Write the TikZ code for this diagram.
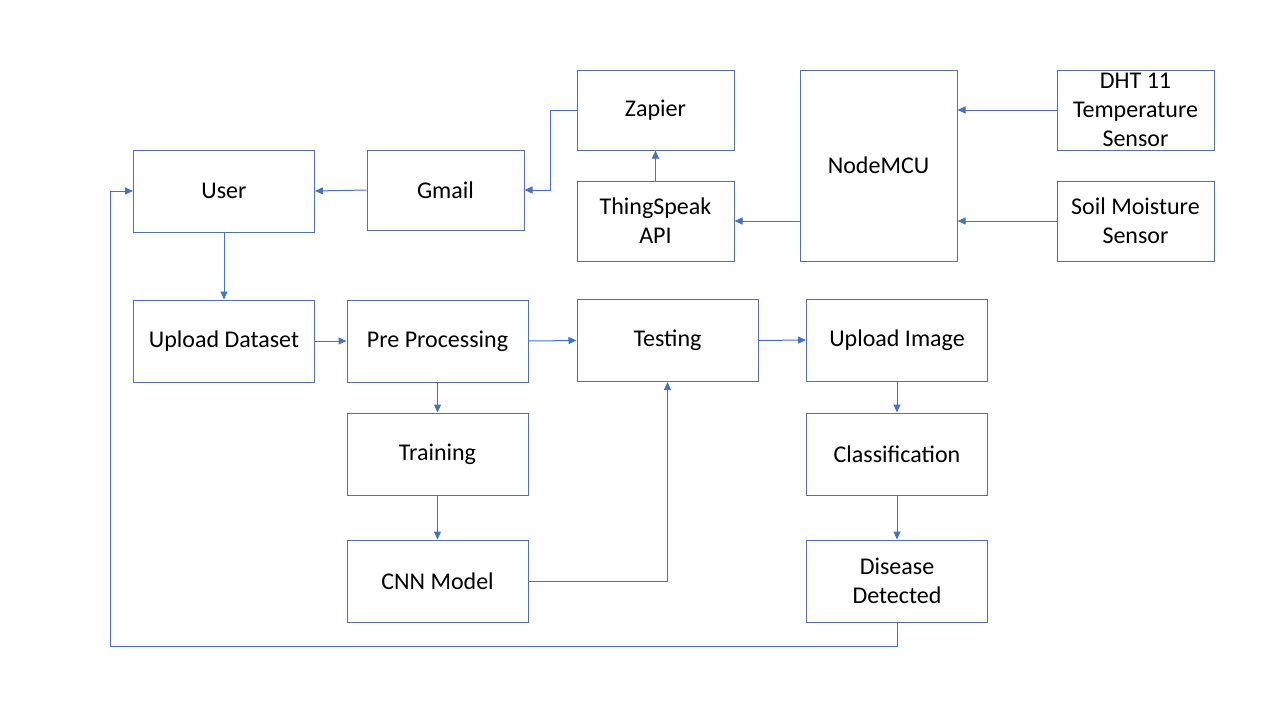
\documentclass[tikz,border=0pt]{standalone}
\usepackage{fontspec}
\setmainfont{Carlito}
\usetikzlibrary{arrows.meta}
\definecolor{boxline}{RGB}{82,114,170}
\definecolor{arrowline}{RGB}{68,114,196}
\begin{document}
\begin{tikzpicture}[x=1pt,y=-1pt,
    blk/.style={draw=boxline,line width=1pt,minimum width=157pt,minimum height=80pt,align=center,font=\fontsize{24}{29}\selectfont,inner sep=0pt},
    wblk/.style={blk,minimum width=181pt,minimum height=82pt},
    flow/.style={-{Triangle[length=8pt,width=7pt]},draw=arrowline,line width=1pt}]
        \useasboundingbox (0,0) rectangle (1280,720);
        %top row
        \node[blk] (zapier) at (655.5,110) {Zapier};
        \node[blk] (thingspeak) at (655.5,221) {ThingSpeak\\API};
        \node[blk,minimum height=191pt] (nodemcu) at (878.5,165.5) {NodeMCU};
        \node[blk] (dht) at (1135.5,110) {DHT 11\\Temperature\\Sensor};
        \node[blk] (soil) at (1135.5,221) {Soil Moisture\\Sensor};
        \node[wblk] (user) at (224,191) {User};
        \node[blk] (gmail) at (445.5,190) {Gmail};

        %middle row
        \node[wblk] (upload) at (224,341) {Upload Dataset};
        \node[wblk] (prepro) at (437.5,341) {Pre Processing};
        \node[wblk] (testing) at (667.5,340.5) {Testing};
        \node[wblk] (uploadimg) at (897,340) {Upload Image};

        %lower rows
        \node[wblk] (training) at (437.5,454) {Training};
        \node[wblk] (classif) at (897,454) {Classification};
        \node[wblk] (cnn) at (437.5,581) {CNN Model};
        \node[wblk] (disease) at (897,581) {Disease\\Detected};

        % sensors
        \draw[flow] (dht.west) -- (dht.west -| nodemcu.east);
        \draw[flow] (soil.west) -- (soil.west -| nodemcu.east);
        \draw[flow] (soil.west -| nodemcu.west) -- (thingspeak.east);
        \draw[flow] (thingspeak.north) -- (zapier.south);
        \draw[flow] (zapier.west) -- (550,110) -- (550,190) -- (gmail.east);
        \draw[flow] (gmail.west) -- (user.east);

        % image pipeline
        \draw[flow] (user.south) -- (upload.north);
        \draw[flow] (upload.east) -- (prepro.west);
        \draw[flow] (prepro.east) -- (testing.west);
        \draw[flow] (prepro.south) -- (training.north);
        \draw[flow] (training.south) -- (cnn.north);
        \draw[flow] (cnn.east) -| (testing.south);
        \draw[flow] (testing.east) -- (uploadimg.west);
        \draw[flow] (uploadimg.south) -- (classif.north);
        \draw[flow] (classif.south) -- (disease.north);

        %loop back
        \coordinate (loopa) at (897,646);
        \coordinate (loopb) at (110,646);
        \draw[flow] (disease.south) -- (loopa) -- (loopb) |- (user.west);
    \end{tikzpicture}
\end{document}
